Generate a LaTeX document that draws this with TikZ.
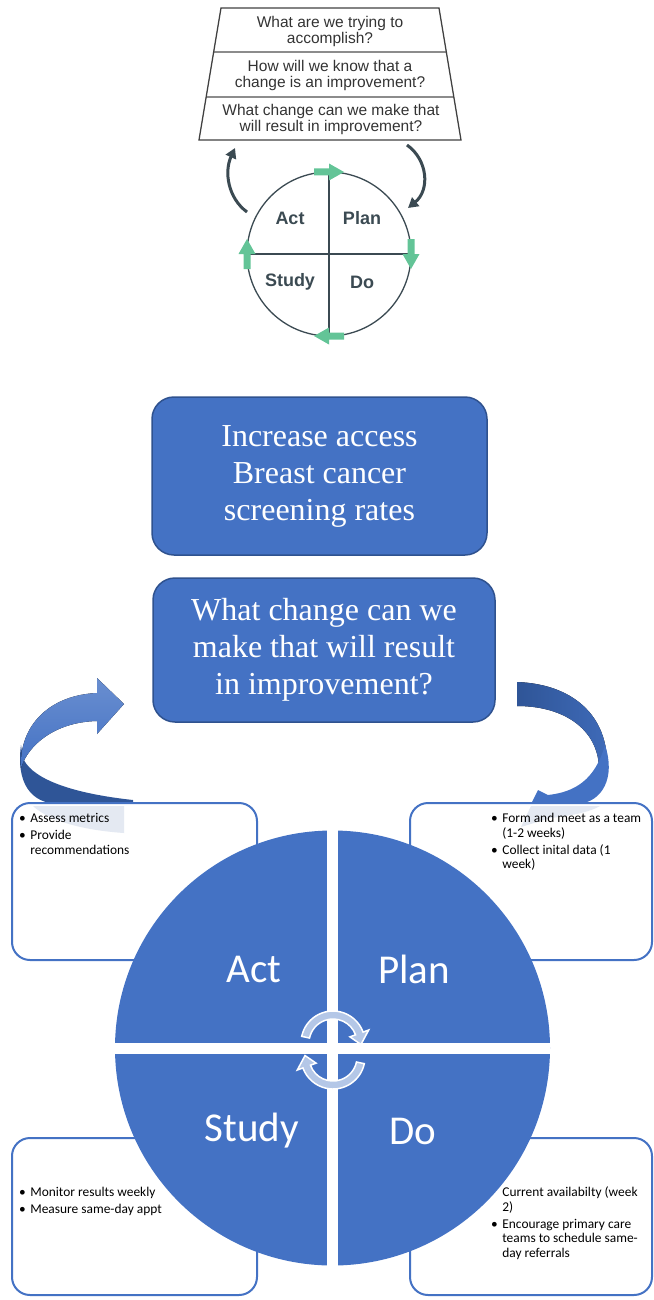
\documentclass[tikz,border=0pt]{standalone}
\usepackage{fontspec}
\setmainfont{Liberation Serif}
\newfontfamily\calibri{Carlito}
\newfontfamily\arialfont{Liberation Sans}
\usetikzlibrary{arrows.meta,calc}

\definecolor{pdsablue}{HTML}{4472C4}
\definecolor{pdsadark}{HTML}{2F5597}
\definecolor{pdsaedge}{HTML}{2F528F}
\definecolor{mint}{HTML}{63C497}
\definecolor{slate}{HTML}{3B4A52}
\definecolor{lav}{HTML}{B4C7E7}
\definecolor{fade}{HTML}{E4E9F2}

\begin{document}
\begin{tikzpicture}[
    x=1pt, y=1pt,
    frame/.style={draw=black!75, line width=1.3},
    rule/.style={draw=black!45, line width=1.2},
    question/.style={font=\arialfont\fontsize{15.5}{16}\selectfont, text=black!80, align=center},
    quad/.style={font=\arialfont\bfseries\fontsize{18}{18}\selectfont, text=slate},
    cyclearrow/.style={draw=slate, line width=3, -{Triangle[length=10pt,width=11pt]}},
    bluebox/.style={draw=pdsaedge, line width=1.5, fill=pdsablue, rounded corners=22,
      font=\fontsize{32}{37}\selectfont, text=white, align=center},
    notebox/.style={draw=pdsablue, line width=2, fill=white, rounded corners=18},
    notes/.style={font=\calibri\fontsize{13.4}{14.8}\selectfont, anchor=north west, inner sep=0},
    phase/.style={font=\calibri\fontsize{41}{41}\selectfont, text=white},
    turn/.style={fill=lav, draw=white, line width=1.5}
  ]
  \useasboundingbox (0,0) rectangle (653,-1300);

  % the three questions
  \coordinate (tl) at (221,-8);
  \coordinate (tr) at (439,-8);
  \coordinate (bl) at (199,-140);
  \coordinate (br) at (461,-140);
  \draw[rule] ($(tl)!0.333!(bl)$) -- ($(tr)!0.333!(br)$);
  \draw[rule] ($(tl)!0.674!(bl)$) -- ($(tr)!0.674!(br)$);
  \draw[frame] (tl) -- (tr) -- (br) -- (bl) -- cycle;
  \node[question] (aim) at (330,-31.5) {What are we trying to\\accomplish?};
  \node[question] (measure) at (330,-75.5) {How will we know that a\\change is an improvement?};
  \node[question] (change) at (331,-119.5) {What change can we make that\\will result in improvement?};

  % small cycle
  \node[circle, draw=slate, line width=1.3, minimum size=164, inner sep=0] (cycle) at (329,-254) {};
  \draw[slate, line width=1.3] (cycle.north) -- (cycle.south) (cycle.west) -- (cycle.east);
  \foreach \a in {90,0,-90,180}
    \fill[mint, shift={(cycle.center)}, shift={(\a:82)}, rotate=\a-90]
      (-15,-3.5) -- (0,-3.5) -- (0,-8.5) -- (15,0) -- (0,8.5) -- (0,3.5) -- (-15,3.5) -- cycle;
  \node[quad] (tact) at (290,-218) {Act};
  \node[quad] (tplan) at (362,-218) {Plan};
  \node[quad] (tstudy) at (290,-282) {Study};
  \node[quad] (tdo) at (362,-282) {Do};

  \coordinate (upfrom) at (247,-212);
  \coordinate (upto) at (235,-148);
  \draw[cyclearrow] (upfrom) .. controls (228,-198) and (224,-172) .. (upto);
  \coordinate (downfrom) at (407,-145);
  \coordinate (downto) at (408,-208);
  \draw[cyclearrow] (downfrom) .. controls (428,-160) and (430,-190) .. (downto);

  % aim and change
  \node[bluebox, minimum width=335, minimum height=158] (goal) at (319.5,-476)
    {Increase access\\Breast cancer\\screening rates};
  \node[bluebox, minimum width=342, minimum height=144] (idea) at (324,-650)
    {What change can we\\make that will result\\in improvement?};

  % ribbon arrows
  \fill[pdsadark] (21,-745) .. controls (16,-782) and (30,-804) .. (60,-804) -- (133,-804)
    -- (133,-800) .. controls (60,-792) and (30,-775) .. (23,-758) -- cycle;
  \fill[top color=pdsablue!80!white, bottom color=pdsablue] (97,-693)
    .. controls (50,-695) and (19,-725) .. (21,-768)
    .. controls (28,-745) and (55,-722) .. (97,-721)
    -- (97,-734) -- (124,-704) -- (97,-678) -- cycle;

  \fill[left color=pdsadark, right color=pdsablue!75!pdsadark] (517,-682)
    .. controls (572,-684) and (609,-715) .. (607,-768) -- (599,-768)
    .. controls (598,-730) and (565,-706) .. (517,-706) -- cycle;
  \fill[pdsablue] (605,-745) .. controls (616,-778) and (602,-802) .. (578,-804)
    -- (531,-804) -- (538,-790) -- (548,-795)
    .. controls (575,-792) and (595,-780) .. (605,-745) -- cycle;

  % note boxes
  \node[notebox, minimum width=245, minimum height=157] (actbox) at (134.5,-881.5) {};
  \node[notebox, minimum width=242, minimum height=157] (planbox) at (531,-881.5) {};
  \node[notebox, minimum width=245, minimum height=157] (studybox) at (134.5,-1216.5) {};
  \node[notebox, minimum width=242, minimum height=157] (dobox) at (531,-1216.5) {};

  \fill[fade] (33,-806) -- (124,-806) -- (124,-833) .. controls (80,-830) and (48,-820) .. (33,-806) -- cycle;
  \fill[fade] (531,-806) -- (600,-806) .. controls (590,-812) and (570,-816) .. (550,-818)
    -- (521,-827) -- cycle;

  \node[notes] (actnotes) at ([shift={(8,-10)}]actbox.north west)
    {\begin{tabular}{@{}l@{\hspace{4.5pt}}l@{}}
      \textbullet & Assess metrics\\[2pt]
      \textbullet & Provide\\
                  & recommendations
    \end{tabular}};
  \node[notes] (plannotes) at ([shift={(82,-10)}]planbox.north west)
    {\begin{tabular}{@{}l@{\hspace{4.5pt}}l@{}}
      \textbullet & Form and meet as a team\\
                  & (1-2 weeks)\\[2pt]
      \textbullet & Collect inital data (1\\
                  & week)
    \end{tabular}};
  \node[notes] (studynotes) at ([shift={(8,-49)}]studybox.north west)
    {\begin{tabular}{@{}l@{\hspace{4.5pt}}l@{}}
      \textbullet & Monitor results weekly\\[2pt]
      \textbullet & Measure same-day appt
    \end{tabular}};
  \node[notes] (donotes) at ([shift={(82,-49)}]dobox.north west)
    {\begin{tabular}{@{}l@{\hspace{4.5pt}}l@{}}
                  & Current availabilty (week\\
                  & 2)\\[2pt]
      \textbullet & Encourage primary care\\
                  & teams to schedule same-\\
                  & day referrals
    \end{tabular}};

  % PDSA wheel
  \node[circle, fill=pdsablue, minimum size=435, inner sep=0] (wheel) at (332.5,-1048) {};
  \draw[white, line width=11] (wheel.north) -- (wheel.south) (wheel.west) -- (wheel.east);
  \node[phase] (act) at (254,-969) {Act};
  \node[phase] (plan) at (414,-969) {Plan};
  \node[phase] (study) at (252,-1131) {Study};
  \node[phase] (do) at (413,-1131) {Do};

  \coordinate (ua) at (333,-1043);
  \coordinate (la) at (333,-1057);
  \foreach \c/\r in {ua/0, la/180}
    \path[turn, shift={(\c)}, rotate=\r] (168:32) arc[start angle=168, end angle=20, radius=32]
      -- (20:38) -- (-3:28) -- (20:18) -- (20:24)
      arc[start angle=20, end angle=168, radius=24] -- cycle;
\end{tikzpicture}
\end{document}
